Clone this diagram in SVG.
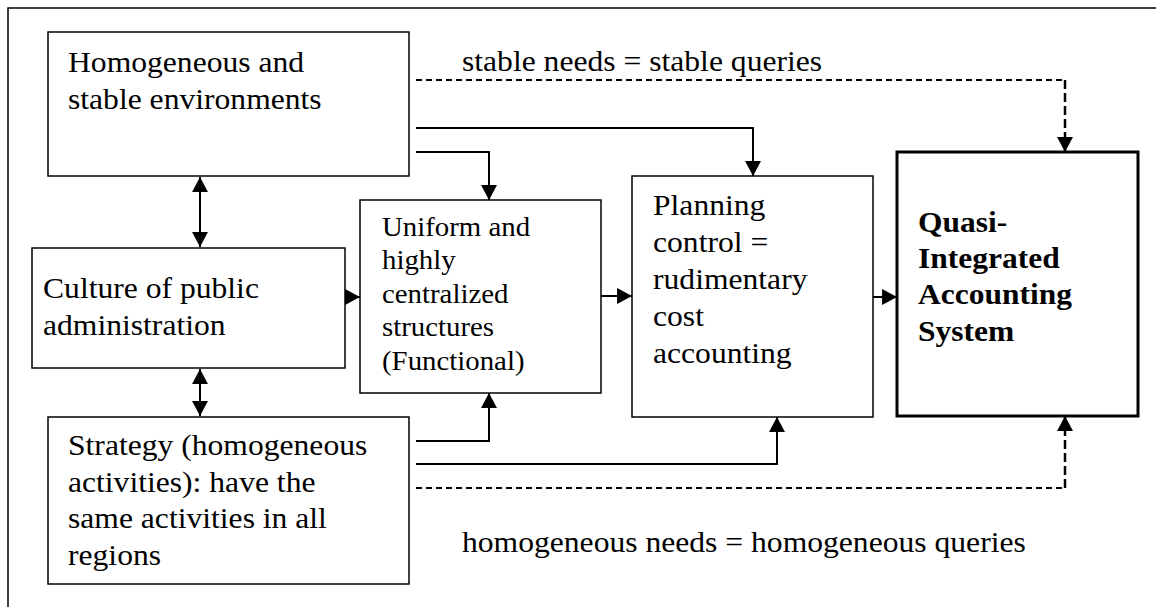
<svg xmlns="http://www.w3.org/2000/svg" width="1156" height="607" viewBox="0 0 1156 607">
<style>
.box{fill:#fff;stroke:#000;stroke-width:1.5}
.bold{fill:#fff;stroke:#000;stroke-width:3}
.t{font-family:"Liberation Serif","Times New Roman",serif;font-size:29px;fill:#000}
.s{font-family:"Liberation Serif","Times New Roman",serif;font-size:28px;fill:#000}
.b{font-family:"Liberation Serif","Times New Roman",serif;font-size:30px;font-weight:bold;fill:#000}
.c{fill:none;stroke:#000;stroke-width:2}
.d{fill:none;stroke:#000;stroke-width:2;stroke-dasharray:6 4}
.dv{fill:none;stroke:#000;stroke-width:2.5;stroke-dasharray:9 4}
</style>
<defs>
<marker id="ah" markerUnits="userSpaceOnUse" markerWidth="16" markerHeight="16" refX="14" refY="7.5" orient="auto-start-reverse" viewBox="0 0 14 15">
<path d="M0,0 L14,7.5 L0,15 Z" fill="#000"/>
</marker>
</defs>
<rect width="1156" height="607" fill="#fff"/>
<path d="M8,607 V8 H1156" fill="none" stroke="#000" stroke-width="1.5"/>

<g id="n-env">
<rect class="box" x="48" y="32" width="361" height="144"/>
<text class="t" transform="translate(68,72) scale(1.09,1)">Homogeneous and</text>
<text class="t" transform="translate(68,109) scale(1.09,1)">stable environments</text>
</g>
<g id="n-culture">
<rect class="box" x="32" y="248" width="313" height="120"/>
<text class="t" transform="translate(43,298) scale(1.09,1)">Culture of public</text>
<text class="t" transform="translate(43,335) scale(1.09,1)">administration</text>
</g>
<g id="n-strategy">
<rect class="box" x="48" y="417" width="361" height="167"/>
<text class="t" transform="translate(68,455) scale(1.09,1)">Strategy (homogeneous</text>
<text class="t" transform="translate(68,492) scale(1.09,1)">activities): have the</text>
<text class="t" transform="translate(68,528) scale(1.09,1)">same activities in all</text>
<text class="t" transform="translate(68,565) scale(1.09,1)">regions</text>
</g>
<g id="n-uniform">
<rect class="box" x="360" y="200" width="241" height="193"/>
<text class="s" transform="translate(382,236) scale(1.03,1)">Uniform and</text>
<text class="s" transform="translate(382,269) scale(1.03,1)">highly</text>
<text class="s" transform="translate(382,303) scale(1.03,1)">centralized</text>
<text class="s" transform="translate(382,336) scale(1.03,1)">structures</text>
<text class="s" transform="translate(382,370) scale(1.03,1)">(Functional)</text>
</g>
<g id="n-planning">
<rect class="box" x="632" y="176" width="241" height="241"/>
<text class="t" transform="translate(653,215) scale(1.09,1)">Planning</text>
<text class="t" transform="translate(653,252) scale(1.09,1)">control =</text>
<text class="t" transform="translate(653,289) scale(1.09,1)">rudimentary</text>
<text class="t" transform="translate(653,326) scale(1.09,1)">cost</text>
<text class="t" transform="translate(653,363) scale(1.09,1)">accounting</text>
</g>
<g id="n-quasi">
<rect class="bold" x="897" y="152" width="241" height="264"/>
<text class="b" transform="translate(918,232) scale(1.05,1)">Quasi-</text>
<text class="b" transform="translate(918,268) scale(1.05,1)">Integrated</text>
<text class="b" transform="translate(918,304) scale(1.05,1)">Accounting</text>
<text class="b" transform="translate(918,341) scale(1.05,1)">System</text>
</g>

<g id="connectors">
<path class="c" d="M200,177 V247" marker-start="url(#ah)" marker-end="url(#ah)"/>
<path class="c" d="M200,369 V416" marker-start="url(#ah)" marker-end="url(#ah)"/>
<path class="c" d="M345,297 H360" marker-end="url(#ah)"/>
<path class="c" d="M416,152 H489 V200" marker-end="url(#ah)"/>
<path class="c" d="M416,128 H753 V176" marker-end="url(#ah)"/>
<path class="d" d="M416,80 H1065"/>
<path class="dv" d="M1065,80 V152" marker-end="url(#ah)"/>
<path class="c" d="M601,296 H632" marker-end="url(#ah)"/>
<path class="c" d="M873,297 H897" marker-end="url(#ah)"/>
<path class="c" d="M416,441 H489 V393" marker-end="url(#ah)"/>
<path class="c" d="M416,464 H777 V417" marker-end="url(#ah)"/>
<path class="d" d="M416,488 H1065"/>
<path class="dv" d="M1065,488 V416" marker-end="url(#ah)"/>
<text class="t" transform="translate(462,71) scale(1.09,1)">stable needs = stable queries</text>
<text class="t" transform="translate(462,552) scale(1.09,1)">homogeneous needs = homogeneous queries</text>
</g>
</svg>
